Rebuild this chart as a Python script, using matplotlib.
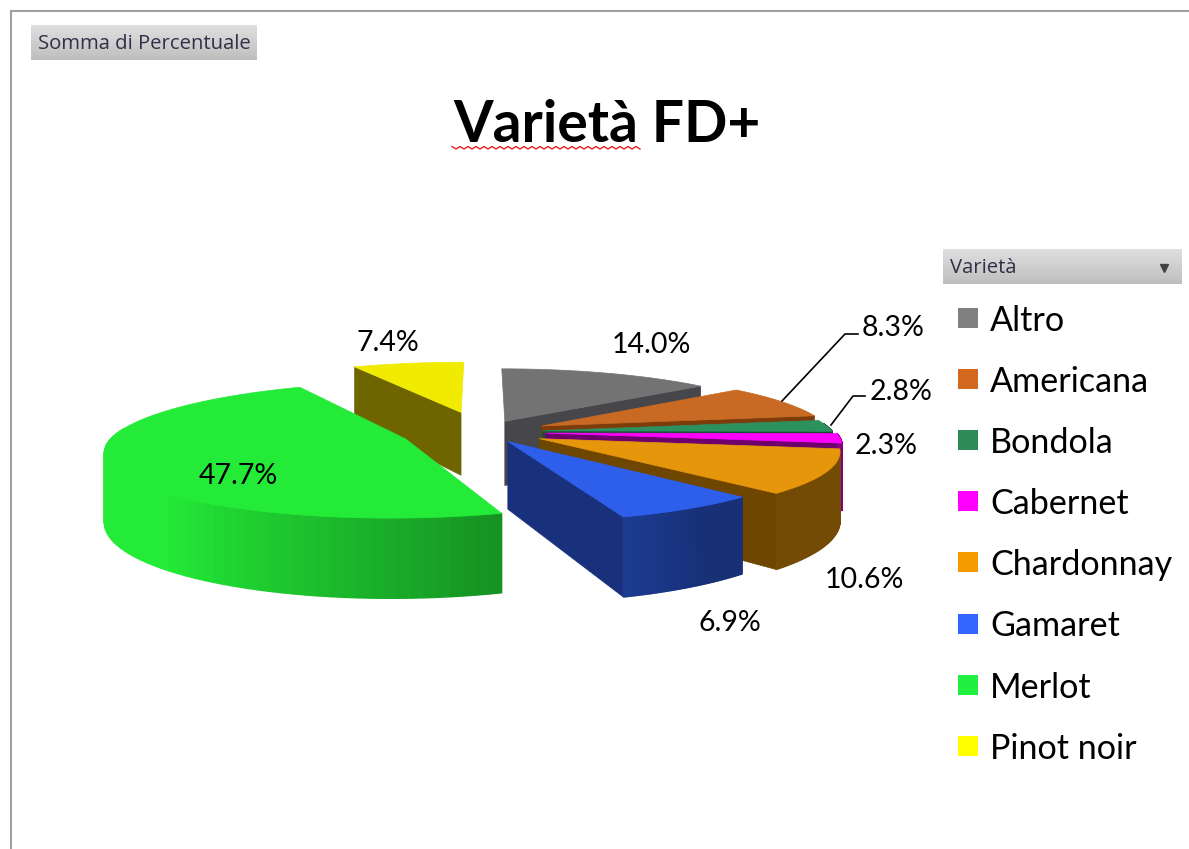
import numpy as np
import matplotlib
matplotlib.use("Agg")
import matplotlib.pyplot as plt
from matplotlib.patches import Polygon, Rectangle

# --- dati ---
varieta = ["Altro", "Americana", "Bondola", "Cabernet", "Chardonnay", "Gamaret", "Merlot", "Pinot noir"]
percentuali = [14.0, 8.3, 2.8, 2.3, 10.6, 6.9, 47.7, 7.4]
esplosione = [0.19, 0.23, 0.21, 0.22, 0.22, 0.17, 0.28, 0.33]

# --- stile ---
col_top = ["#737373", "#C86A23", "#2D915F", "#FF00FF", "#E6960A", "#2D5FEB", "#23EB37", "#F0EB00"]
col_legenda = ["#808080", "#D2691E", "#2E8B57", "#FF00FF", "#F59B00", "#3366FF", "#22F040", "#FFFF00"]
col_parete = ["#46464B", "#7D3C0A", "#1A4F36", "#6E006E", "#6E4600", "#19307D", "#1E9123", "#6E6400"]
pos_etichette = [(651, 345), (893, 328), (901, 392), (886, 446), (864, 580), (730, 623), (238, 476), (388, 343)]
FONT = "Lato"

# parametri della proiezione (pixel)
CX, CY = 482, 432
RX, RY = 290, 64
PERSP = 0.16
ALTEZZA = 66


def proietta(x, y, z=0.0):
    w = 1 + PERSP * y
    return CX + RX * x / w, CY - RY * y / w + ALTEZZA * z / w


def fetta(ax, i, t0, t1):
    tm = np.radians((t0 + t1) / 2)
    ex, ey = esplosione[i] * np.sin(tm), esplosione[i] * np.cos(tm)
    th = np.radians(np.linspace(t0, t1, 80))
    xs, ys = ex + np.sin(th), ey + np.cos(th)

    # pareti radiali, solo se rivolte verso chi guarda
    for t, normale in ((t0, t0 - 90), (t1, t1 + 90)):
        if np.cos(np.radians(normale)) < -0.01:
            r = np.radians(t)
            px, py = ex + np.sin(r), ey + np.cos(r)
            quad = [proietta(ex, ey), proietta(px, py), proietta(px, py, 1), proietta(ex, ey, 1)]
            ax.add_patch(Polygon(quad, closed=True, fc=col_parete[i], ec=col_parete[i], lw=0.5))

    # bordo esterno con sfumatura
    base = np.array(matplotlib.colors.to_rgb(col_top[i]))
    for k in range(len(th) - 1):
        if np.cos(th[k]) > 0.12:
            continue
        gradi = np.degrees(th[k])
        luce = np.interp(gradi, [145, 161.6, 222, 360], [0.5, 0.62, 1.0, 1.0])
        c = base * luce
        quad = [proietta(xs[k], ys[k]), proietta(xs[k + 1], ys[k + 1]),
                proietta(xs[k + 1], ys[k + 1], 1), proietta(xs[k], ys[k], 1)]
        ax.add_patch(Polygon(quad, closed=True, fc=c, ec=c, lw=1.0))

    # faccia superiore
    punti = [proietta(ex, ey)] + [proietta(a, b) for a, b in zip(xs, ys)]
    ax.add_patch(Polygon(punti, closed=True, fc=col_top[i], ec=col_top[i], lw=0.5))


def pulsante(ax, x0, y0, x1, y1):
    grad = np.linspace(0.875, 0.745, 32).reshape(-1, 1)
    ax.imshow(grad, extent=(x0, x1, y1, y0), cmap="gray", vmin=0, vmax=1, aspect="auto", zorder=1)


fig = plt.figure(figsize=(11.89, 8.49), dpi=100)
ax = fig.add_axes([0, 0, 1, 1])

# cornice
ax.plot([10.5, 10.5, 1189], [849, 11, 11], color="#A0A0A0", lw=1.5, solid_joinstyle="miter")

# pulsanti tabella pivot
pulsante(ax, 31, 25, 257, 60)
ax.text(38, 44, "Somma di Percentuale", fontsize=14.6, family="Open Sans", color="#303048", va="center")
pulsante(ax, 943, 249, 1182, 284)
ax.text(950, 268, "Varietà", fontsize=14.6, family="Open Sans", color="#303048", va="center")
ax.plot([1164], [268], marker="v", ms=6, color="#404040", zorder=3)

# titolo con sottolineatura ortografica
ax.text(607, 125, "Varietà FD+", fontsize=41, fontweight="bold", family=FONT, ha="center", va="center", color="black")
zx = np.arange(452, 644, 4)
zy = 146.5 + 2.5 * (np.arange(len(zx)) % 2)
ax.plot(zx, zy, color="#F02020", lw=1)

# torta: dal fondo verso il davanti
fine = np.cumsum(percentuali) * 3.6
inizio = fine - np.array(percentuali) * 3.6
medie = np.radians((inizio + fine) / 2)
for i in sorted(range(len(varieta)), key=lambda n: -np.cos(medie[n])):
    fetta(ax, i, inizio[i], fine[i])

# etichette
for v, (x, y) in zip(percentuali, pos_etichette):
    ax.text(x, y, f"{v:.1f}%", fontsize=20.5, family=FONT, ha="center", va="center", color="black")
ax.plot([782, 845, 858], [401, 334, 334], color="black", lw=1.2)
ax.plot([831, 853, 865], [425, 396, 396], color="black", lw=1.2)

# legenda
for i, nome in enumerate(varieta):
    yc = 318 + i * 61.1
    ax.add_patch(Rectangle((958, yc - 10), 20, 20, fc=col_legenda[i], ec="none"))
    ax.text(990, yc + 3, nome, fontsize=24.6, family=FONT, va="center", color="black")

ax.set_xlim(0, 1189)
ax.set_ylim(849, 0)
ax.axis("off")
fig.savefig("out.png", dpi=100)
